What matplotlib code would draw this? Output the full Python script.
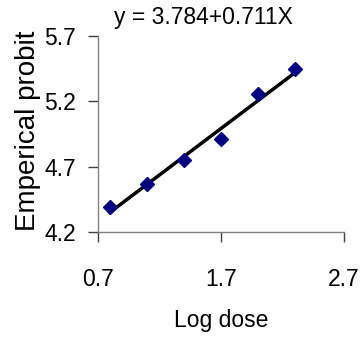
import matplotlib
matplotlib.use("Agg")
import matplotlib.pyplot as plt

# probit data
log_dose = [0.796, 1.097, 1.398, 1.699, 2.000, 2.301]
emp_probit = [4.39, 4.565, 4.75, 4.915, 5.255, 5.445]

intercept = 3.784
slope = 0.711

x_ticks = [0.7, 1.7, 2.7]
y_ticks = [4.2, 4.7, 5.2, 5.7]

plt.rcParams["font.family"] = ["Liberation Sans", "DejaVu Sans"]

fig = plt.figure(figsize=(3.63, 3.39), dpi=100)
ax = fig.add_axes([0.270, 0.3156, 0.678, 0.578])

fit_x = [min(log_dose), max(log_dose)]
fit_y = [intercept + slope * v for v in fit_x]
ax.plot(fit_x, fit_y, color="black", linewidth=2.5, zorder=2)
ax.plot(log_dose, emp_probit, linestyle="none", marker="D", markersize=7,
        color="#000080", zorder=3)

ax.set_xlim(0.7, 2.7)
ax.set_ylim(4.2, 5.7)
ax.set_xticks(x_ticks)
ax.set_yticks(y_ticks)
ax.set_xticklabels([f"{v:.1f}" for v in x_ticks])
ax.set_yticklabels([f"{v:.1f}" for v in y_ticks])

for side in ("top", "right"):
    ax.spines[side].set_visible(False)
for side in ("left", "bottom"):
    ax.spines[side].set_color("#808080")
    ax.spines[side].set_linewidth(1.0)

ax.tick_params(axis="x", direction="out", length=7, width=1, color="#404040",
               labelsize=16.5, pad=19)
ax.tick_params(axis="y", direction="out", length=7, width=1, color="#404040",
               labelsize=16.5, pad=9)

ax.set_xlabel("Log dose", fontsize=16.5, labelpad=13)
fig.text(0.077, 0.614, "Emperical probit", rotation=90, fontsize=20,
         ha="center", va="center")
fig.text(0.56, 0.947, "y = 3.784+0.711X", fontsize=16.5, ha="center", va="center")

fig.savefig("out.png", dpi=100, facecolor="white")
